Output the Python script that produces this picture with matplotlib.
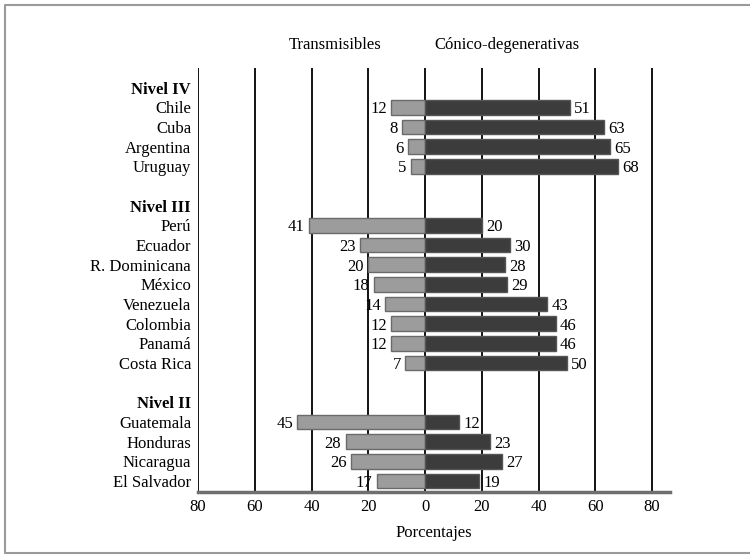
import matplotlib.pyplot as plt
from matplotlib.lines import Line2D

plt.rcParams['font.family'] = ['Liberation Serif', 'DejaVu Serif']

# datos por nivel
niveles = ['Nivel IV', 'Nivel III', 'Nivel II']
paises = [
    ['Chile', 'Cuba', 'Argentina', 'Uruguay'],
    ['Perú', 'Ecuador', 'R. Dominicana', 'México', 'Venezuela', 'Colombia', 'Panamá', 'Costa Rica'],
    ['Guatemala', 'Honduras', 'Nicaragua', 'El Salvador'],
]
transmisibles = [
    [12, 8, 6, 5],
    [41, 23, 20, 18, 14, 12, 12, 7],
    [45, 28, 26, 17],
]
cronicas = [
    [51, 63, 65, 68],
    [20, 30, 28, 29, 43, 46, 46, 50],
    [12, 23, 27, 19],
]
ticks_x = [-80, -60, -40, -20, 0, 20, 40, 60, 80]
fs = 12

fig = plt.figure(figsize=(7.5, 5.57), dpi=100)
ax = fig.add_axes([198/750, 1-492/557, 472/750, (492-68)/557])

# marco de la figura (arriba, izquierda, abajo)
x0, y0, y1 = 5/750, 4/557, 1-5/557
fig.lines.append(Line2D([1, x0, x0, 1], [y1, y1, y0, y0], transform=fig.transFigure,
                        color='#9a9a9a', lw=1.5))

etiquetas = []
negritas = []
fila = 0
for n, nivel in enumerate(niveles):
    etiquetas.append((fila, nivel))
    negritas.append(fila)
    fila += 1
    for p, t, c in zip(paises[n], transmisibles[n], cronicas[n]):
        ax.barh(fila, -t, height=0.75, color='#9c9c9c', edgecolor='#6a6a6a', lw=1, zorder=3)
        ax.barh(fila, c, height=0.75, color='#3c3c3c', edgecolor='#555555', lw=1, zorder=3)
        ax.text(-t - 1.5, fila + 0.1, str(t), ha='right', va='center', fontsize=fs)
        ax.text(c + 1.5, fila + 0.1, str(c), ha='left', va='center', fontsize=fs)
        etiquetas.append((fila, p))
        fila += 1
    fila += 1

for x in ticks_x:
    ax.axvline(x, color='black', lw=1.3, zorder=1)

ax.set_xlim(-80, 86.3)
ax.set_ylim(fila - 2 + 0.56, -1)
ax.set_yticks([e[0] for e in etiquetas])
ax.set_yticklabels([e[1] for e in etiquetas], fontsize=fs)
for lab, (f, _) in zip(ax.get_yticklabels(), etiquetas):
    if f in negritas:
        lab.set_fontweight('bold')
ax.tick_params(axis='y', length=0, pad=5)
ax.set_xticks(ticks_x)
ax.set_xticklabels([str(abs(x)) for x in ticks_x], fontsize=fs)
ax.tick_params(axis='x', length=0, pad=5)
ax.set_xlabel('Porcentajes', fontsize=fs, labelpad=7)

for s in ['top', 'right', 'left']:
    ax.spines[s].set_visible(False)
ax.spines['bottom'].set_color('#6e6e6e')
ax.spines['bottom'].set_linewidth(2.5)

fig.text(335/750, 1-45/557, 'Transmisibles', ha='center', va='center', fontsize=fs)
fig.text(507/750, 1-45/557, 'Cónico-degenerativas', ha='center', va='center', fontsize=fs)

fig.savefig('out.png', dpi=100)
